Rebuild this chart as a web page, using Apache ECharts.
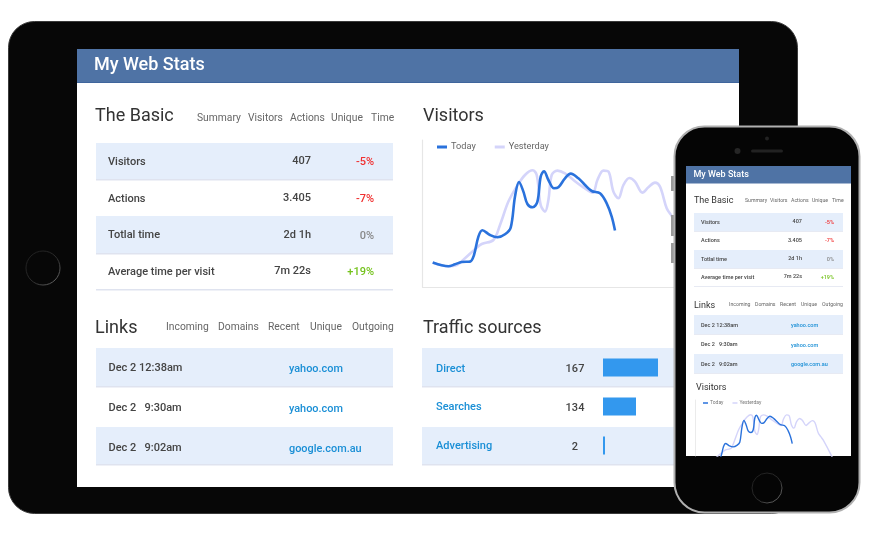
<!DOCTYPE html>
<html><head><meta charset="utf-8">
<style>html,body{margin:0;padding:0;background:#fff}#c{width:873px;height:539px}</style>
<script src="https://cdn.jsdelivr.net/npm/echarts@6/dist/echarts.min.js"></script>
</head><body><div id="c"></div>
<script>
const pageTitle = 'My Web Stats';
const basicTabs = ['Summary','Visitors','Actions','Unique','Time'];
const basicLabels = ['Visitors','Actions','Totlal time','Average time per visit'];
const basicValues = ['407','3.405','2d 1h','7m 22s'];
const basicChanges = ['-5%','-7%','0%','+19%'];
const linkTabs = ['Incoming','Domains','Recent','Unique','Outgoing'];
const linkTimes = ['Dec 2 12:38am','Dec 2   9:30am','Dec 2   9:02am'];
const linkSites = ['yahoo.com','yahoo.com','google.com.au'];
const trafficNames = ['Direct','Searches','Advertising'];
const trafficCounts = ['167','134','2'];
const trafficBarLengths = [55,33,2];
const seriesNames = ['Today','Yesterday'];
const todayTime = [10,19,25.7,32.3,39,47.3,51.3,55.7,59.7,67.3,74.7,82.3,88,92.3,96.3,100.7,104.7,110,114.7,118,121.3,125.7,131.3,135.7,142.3,148,155.7,162.3,169,177.3,184,189,192.3];
const todayVisits = [24.7,22,21,23,25.3,25.7,32.3,50.7,57,52.3,50,53,59.7,90.7,105.3,95.7,83.3,80,85.7,110.7,116,107.3,99,100,109,113.7,109,102.3,96.3,94,84,70.7,56.7];
const yesterdayTime = [10,25.7,34,42.3,52.3,59,70.7,77.3,85.7,94,102.3,110,114,118,122.3,125.7,129,134.7,142.3,150.7,160.7,170,174.7,180.7,185.7,190.7,195.7,200.7,206.7,212.3,219.7,225.7,232.3,237.3,244,249,254,270.7,275];
const yesterdayVisits = [24.7,21,22.3,29,38,43.3,47.3,62.3,85.7,100.7,112.3,117,112.3,82.3,75.7,87.3,112.3,116.7,114,107.3,100,94.7,107.3,116.7,115.7,95.7,89,102.3,109.3,105.7,94.7,100,104.7,100.7,79,71.3,64,30.7,20];

const pair = (xs, ys) => xs.map((x, i) => [x, ys[i]]);
const ROW = '#e5eefb', LINE = '#dfe3ef', INK = '#444', TAB = '#666', LINK = '#1a8fd6', HEAD = '#4f73a5';
const changeColor = s => s[0] === '-' ? '#f03030' : s[0] === '+' ? '#74c21c' : '#888';
const FF = 'Roboto, sans-serif';
const els = [];
const rect = (x, y, w, h, fill, z, r, stroke, lw) => els.push({type:'rect', z, silent:true,
  shape:{x, y, width:w, height:h, r:r||0}, style:{fill, stroke:stroke||null, lineWidth:lw||0}});
const circle = (cx, cy, r, style, z) => els.push({type:'circle', z, silent:true, shape:{cx, cy, r}, style});
const text = (s, x, y, size, fill, z, align, weight) => els.push({type:'text', z, silent:true,
  style:{text:s, x, y:y+(size>8?1.2:0.6), fill, textAlign:align||'left', textVerticalAlign:'middle', font:(weight||400)+' '+size+'px '+FF}});
const ringStroke = {type:'linear', x:0, y:0, x2:1, y2:1, colorStops:[{offset:0,color:'#1c1c1c'},{offset:0.55,color:'#2c2c2c'},{offset:1,color:'#777'}]};

// tablet
rect(8.5, 21.5, 789, 492, '#070707', 0, 26, '#3a3a3a', 1);
rect(77, 49, 662, 438, '#fff', 0);
rect(77, 49, 662, 34, HEAD, 0);
rect(77, 82, 662, 1, '#3f659c', 0);
circle(43, 268, 17, {fill:'#070707', stroke:ringStroke, lineWidth:1}, 0);
text(pageTitle, 94, 64.5, 18, '#fff', 1, 'left', 500);
text('The Basic', 95, 115, 18, '#333', 1);
[197,248,290,331,371].forEach((x,i)=>text(basicTabs[i], x, 117, 10.3, TAB, 1));
[[143,36],[216,37]].forEach(([y,h])=>rect(96, y, 297, h, ROW, 0));
[179,253,289].forEach(y=>rect(96, y, 297, 1.4, LINE, 0));
[161,198,234.5,271].forEach((y,i)=>{
  text(basicLabels[i], 108, y, 11, INK, 1, 'left', 500);
  text(basicValues[i], 311, y-0.5, 11, INK, 1, 'right', 500);
  text(basicChanges[i], 374, y+0.5, 11, changeColor(basicChanges[i]), 1, 'right', 500);
});
text('Links', 95, 327, 18, '#333', 1);
[166,218,268,310,352].forEach((x,i)=>text(linkTabs[i], x, 326, 10.3, TAB, 1));
[[348,38],[427,37]].forEach(([y,h])=>rect(96, y, 297, h, ROW, 0));
[386,464].forEach(y=>rect(96, y, 297, 1.4, LINE, 0));
[367.5,407,447].forEach((y,i)=>{
  text(linkTimes[i], 108.5, y, 11, INK, 1, 'left', 500);
  text(linkSites[i], 289, y+1, 10.9, LINK, 1, 'left', 500);
});
text('Visitors', 423, 115, 18, '#333', 1);
text('Traffic sources', 423, 327, 18, '#333', 1);
[[348,38],[427,37]].forEach(([y,h])=>rect(422, y, 258, h, ROW, 0));
[386,464].forEach(y=>rect(422, y, 258, 1.4, LINE, 0));
[368,406.5,445.5].forEach((y,i)=>{
  text(trafficNames[i], 436, y, 11, LINK, 1, 'left', 500);
  text(trafficCounts[i], 575, y+0.5, 11, INK, 1, 'center', 500);
});

// phone
const P = 10;
[[176,15],[215,21],[243,20]].forEach(([y,h])=>rect(671, y, 4, h, '#9a9a9a', P));
rect(674.5, 126.5, 185, 386, '#050505', P, 30, '#b0b0b0', 2);
rect(686, 166, 165, 290, '#fff', P);
rect(686, 166, 165, 17.5, HEAD, P);
circle(767, 138.5, 2, {fill:'#222'}, P);
circle(737.5, 151, 3, {fill:'#262626'}, P);
rect(751, 149.5, 32, 3, '#222', P, 1.5);
circle(767, 488, 15, {fill:'#050505', stroke:ringStroke, lineWidth:1}, P);
const T = 11;
text(pageTitle, 693.5, 174, 9, '#fff', T, 'left', 500);
text('The Basic', 694, 199.5, 9, '#333', T);
[745,770,791,812,832].forEach((x,i)=>text(basicTabs[i], x, 200.5, 5.2, TAB, T));
[[213,18],[250,18]].forEach(([y,h])=>rect(694, y, 149, h, ROW, P));
[231,268,286].forEach(y=>rect(694, y, 149, 0.8, LINE, P));
[222,240.5,259,277].forEach((y,i)=>{
  text(basicLabels[i], 701, y, 5.5, INK, T, 'left', 500);
  text(basicValues[i], 802, y-0.5, 5.5, INK, T, 'right', 500);
  text(basicChanges[i], 834, y, 5.5, changeColor(basicChanges[i]), T, 'right', 500);
});
text('Links', 694, 305, 9, '#333', T);
[729,755,780,801,822].forEach((x,i)=>text(linkTabs[i], x, 304.5, 5.2, TAB, T));
[[315,19],[354,19]].forEach(([y,h])=>rect(694, y, 149, h, ROW, P));
[334,373].forEach(y=>rect(694, y, 149, 0.8, LINE, P));
[325,344.5,364].forEach((y,i)=>{
  text(linkTimes[i], 701, y, 5.5, INK, T, 'left', 500);
  text(linkSites[i], 791, y+0.5, 5.5, LINK, T, 'left', 500);
});
text('Visitors', 696, 387, 9, '#333', T);

const lineSeries = (xi, lw, z) => [
  {name:seriesNames[1], type:'line', xAxisIndex:xi, yAxisIndex:xi, z, smooth:0.35, showSymbol:false, silent:true,
   data:pair(yesterdayTime, yesterdayVisits), lineStyle:{color:'#d4d4fa', width:lw}, itemStyle:{color:'#d4d4fa'}},
  {name:seriesNames[0], type:'line', xAxisIndex:xi, yAxisIndex:xi, z:z+1, smooth:0.35, showSymbol:false, silent:true,
   data:pair(todayTime, todayVisits), lineStyle:{color:'#2a72dc', width:lw}, itemStyle:{color:'#2a72dc'}}
];
const hiddenParts = {axisTick:{show:false}, axisLabel:{show:false}, splitLine:{show:false}};
const frameLine = {show:true, onZero:false, lineStyle:{color:'#e6e6e6', width:1.2}};

const chart = echarts.init(document.getElementById('c'), null, {renderer:'canvas'});
chart.setOption({
  animation:false,
  backgroundColor:'#fff',
  graphic:{elements:els},
  legend:[
    {data:seriesNames, left:437, top:142.5, padding:0, z:5, icon:'rect', itemWidth:10, itemHeight:3, itemGap:19, selectedMode:false,
     textStyle:{fontFamily:FF, fontSize:9.2, color:'#666', padding:[0,0,0,-1]}},
    {data:seriesNames, left:703, top:400.5, padding:0, z:30, icon:'rect', itemWidth:5, itemHeight:1.5, itemGap:9, selectedMode:false,
     textStyle:{fontFamily:FF, fontSize:5, color:'#777', padding:[0,0,0,-3]}}
  ],
  grid:[
    {left:422.7, top:140, width:257, height:147.3},
    {left:695.5, top:400, width:145.9, height:56},
    {left:603, top:348, width:70, height:117}
  ],
  xAxis:[
    {gridIndex:0, type:'value', min:0, max:257, axisLine:frameLine, ...hiddenParts},
    {gridIndex:1, type:'value', min:0, max:290, axisLine:{show:false}, ...hiddenParts},
    {gridIndex:2, type:'value', min:0, max:70, axisLine:{show:false}, ...hiddenParts}
  ],
  yAxis:[
    {gridIndex:0, type:'value', min:0, max:147.3, axisLine:frameLine, ...hiddenParts},
    {gridIndex:1, type:'value', min:31, max:147.7, z:20, axisLine:{...frameLine, lineStyle:{color:'#e6e6e6', width:0.8}}, ...hiddenParts},
    {gridIndex:2, type:'category', inverse:true, data:trafficNames, axisLine:{show:false}, ...hiddenParts}
  ],
  series:[
    ...lineSeries(0, 2.6, 2),
    ...lineSeries(1, 1.4, 20),
    {type:'bar', xAxisIndex:2, yAxisIndex:2, z:3, barWidth:18, silent:true, data:trafficBarLengths,
     itemStyle:{color:'#3398ee'}}
  ]
});
</script></body></html>
